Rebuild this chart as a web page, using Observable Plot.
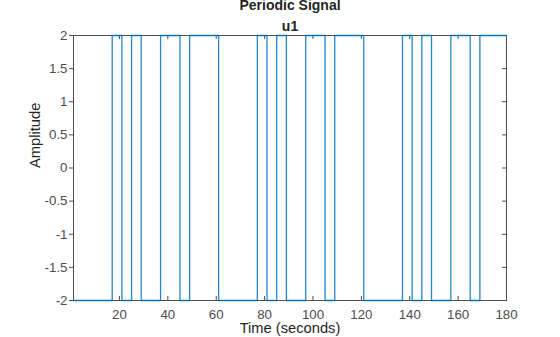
<!DOCTYPE html>
<html>
<head>
<meta charset="utf-8">
<script src="https://cdn.jsdelivr.net/npm/d3@7"></script>
<script src="https://cdn.jsdelivr.net/npm/@observablehq/plot@0.6"></script>
<style>
  html, body { margin: 0; padding: 0; background: #fff; }
  #chart { width: 560px; height: 337px; }
</style>
</head>
<body>
<div id="chart"></div>
<script>
// Switching times (seconds) and the level held from each time on
const times  = [1, 17, 21, 25, 29, 37, 45, 49, 61, 77, 81, 85, 89, 97, 105, 109, 121, 137, 141, 145, 149, 157, 165, 169, 180];
const levels = [-2, 2, -2, 2, -2, 2, -2, 2, -2, 2, -2, 2, -2, 2, -2, 2, -2, 2, -2, 2, -2, 2, -2, 2, 2];
const xTicks = [20, 40, 60, 80, 100, 120, 140, 160, 180];
const yTicks = [-2, -1.5, -1, -0.5, 0, 0.5, 1, 1.5, 2];
const titleText = "Periodic Signal";
const subtitleText = "u1";
const xLabel = "Time (seconds)";
const yLabel = "Amplitude";

const data = times.map((t, i) => ({t, v: levels[i]}));

const W = 560, H = 337;
const mL = 73, mR = 54, mT = 35, mB = 37;
const fw = W - mL - mR, fh = H - mT - mB;
const axisColor = "#4d4d4d";
const tickLen = 4;

const chart = Plot.plot({
  width: W,
  height: H,
  marginLeft: mL,
  marginRight: mR,
  marginTop: mT,
  marginBottom: mB,
  style: {fontFamily: "'Liberation Sans', Arial, sans-serif", background: "#fff", overflow: "visible"},
  x: {domain: [1, 180]},
  y: {domain: [-2, 2]},
  marks: [
    Plot.axisX({ticks: xTicks, tickSize: 0, tickPadding: 9, label: null, fontSize: 13.3, color: "#4d4d4d", tickFormat: d => String(d)}),
    Plot.axisY({ticks: yTicks, tickSize: tickLen, tickPadding: 2, label: null, fontSize: 13.3, color: "#4d4d4d", stroke: axisColor, tickFormat: d => String(d)}),
    // inward ticks: bottom, top, right
    Plot.tickX(xTicks, {x: d => d, insetTop: fh - tickLen, stroke: axisColor}),
    Plot.tickX(xTicks, {x: d => d, insetBottom: fh - tickLen, stroke: axisColor}),
    Plot.tickY(yTicks, {y: d => d, insetLeft: fw - tickLen, stroke: axisColor}),
    Plot.frame({stroke: axisColor}),
    Plot.line(data, {x: "t", y: "v", curve: "step-after", stroke: "#0072BD", strokeWidth: 1.3, strokeOpacity: 0.85}),
    Plot.text([xLabel], {text: d => d, frameAnchor: "bottom", lineAnchor: "bottom", dy: 32, fontSize: 14.7, fill: "#262626"}),
    Plot.text([yLabel], {text: d => d, frameAnchor: "left", lineAnchor: "bottom", rotate: -90, dx: -34, fontSize: 14.7, fill: "#262626"}),
    Plot.text([subtitleText], {text: d => d, frameAnchor: "top", lineAnchor: "bottom", dy: -5, fontSize: 14, fontWeight: "bold", fill: "#262626"}),
    Plot.text([titleText], {text: d => d, frameAnchor: "top", lineAnchor: "bottom", dy: -25.5, fontSize: 14, fontWeight: "bold", fill: "#262626"})
  ]
});
document.getElementById("chart").appendChild(chart);
</script>
</body>
</html>
